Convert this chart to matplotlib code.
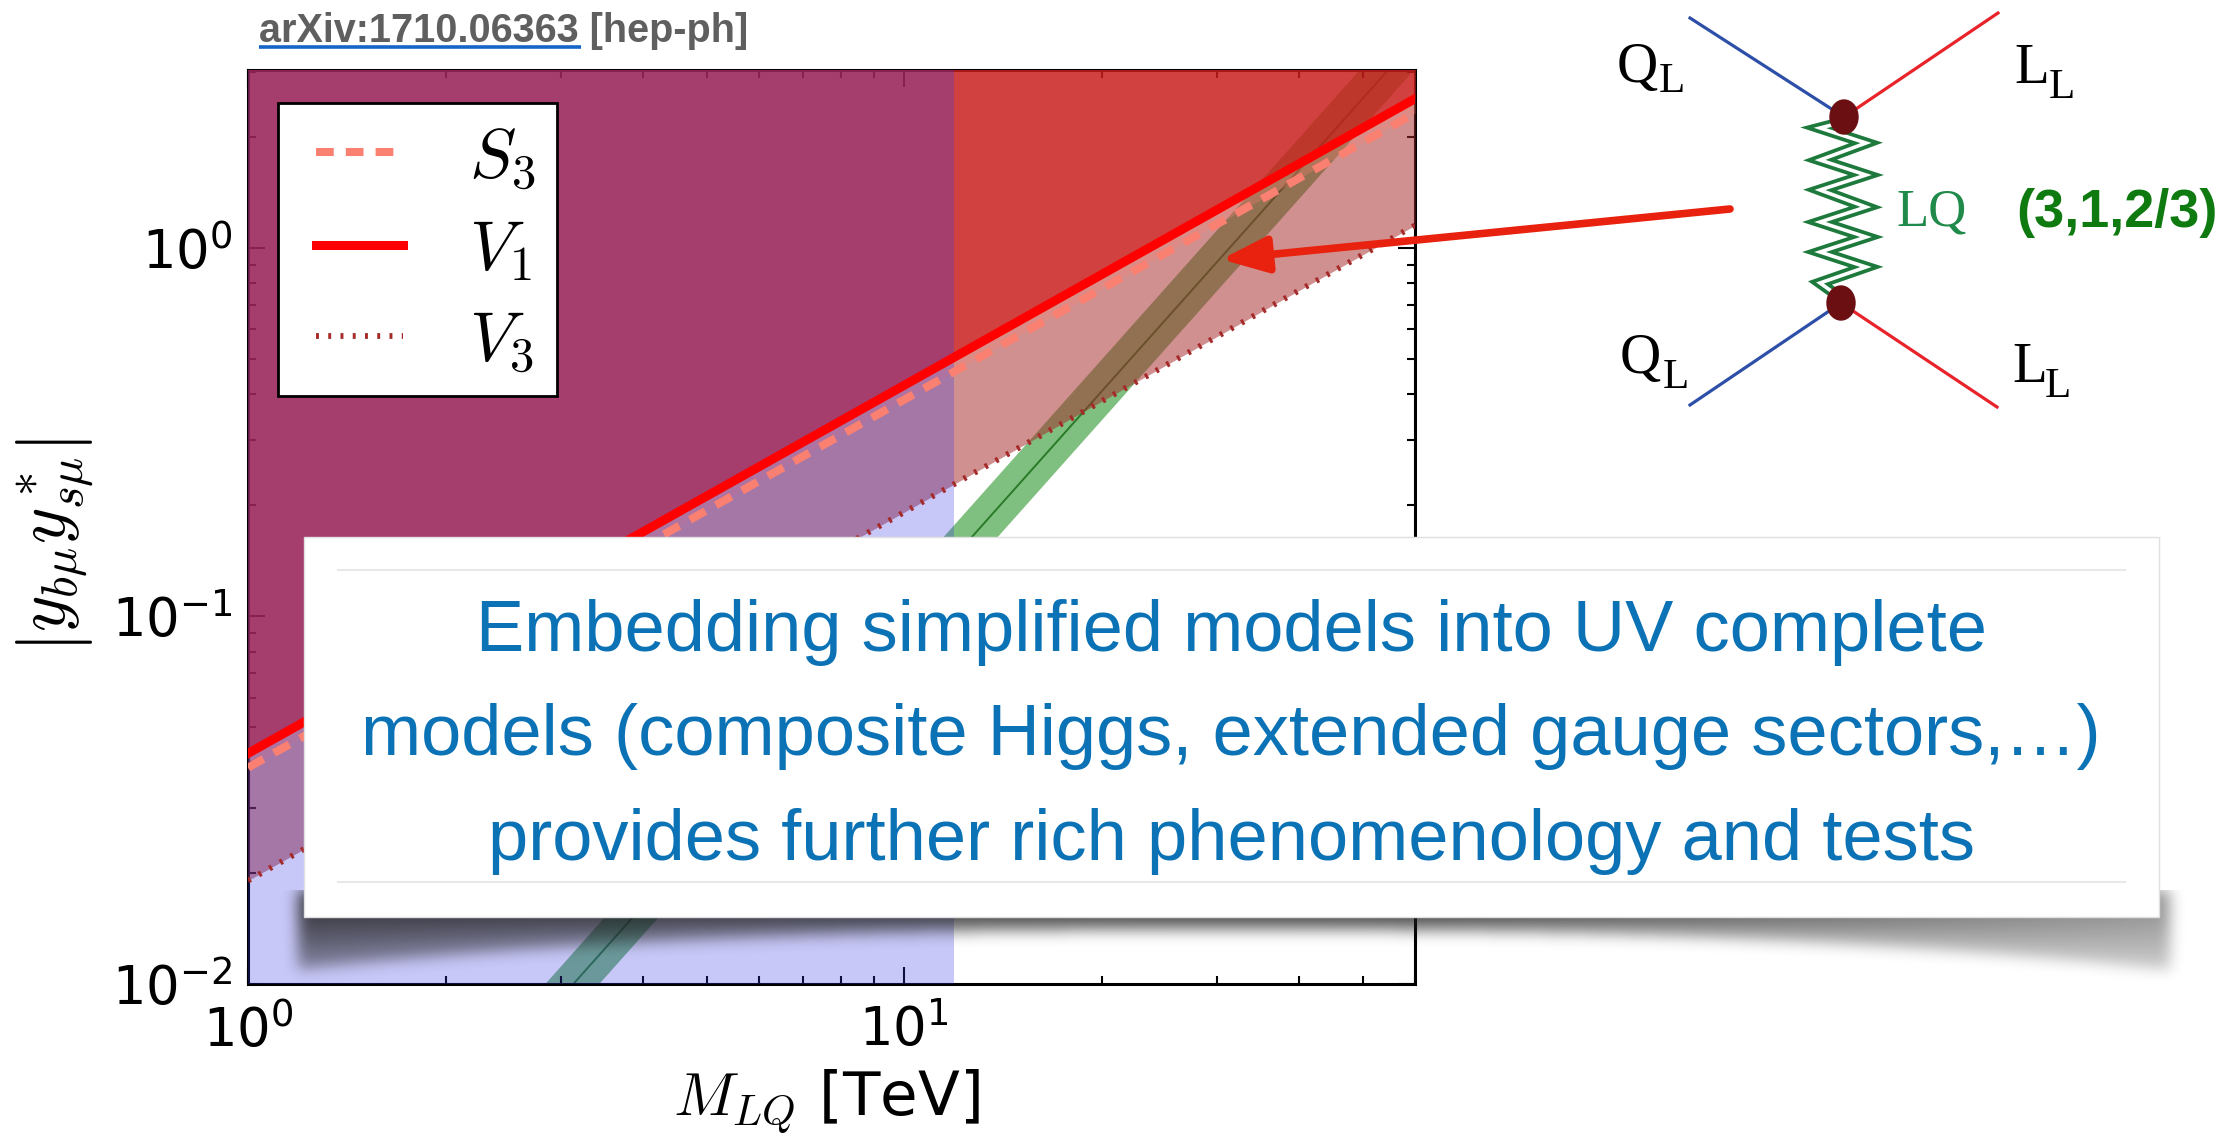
import matplotlib
matplotlib.use('Agg')
import numpy as np
import matplotlib.pyplot as plt
from matplotlib.patches import Rectangle, Ellipse, FancyArrowPatch
from matplotlib.ticker import NullFormatter
from matplotlib.legend_handler import HandlerLine2D

plt.rcParams['mathtext.fontset'] = 'cm'
plt.rcParams['axes.unicode_minus'] = False
plt.rcParams['font.family'] = 'DejaVu Sans'

# coupling limits |y_bmu y*_smu| vs leptoquark mass (straight lines in log-log)
m_ends = [1.0, 60.0]
v1_limit = [0.0423, 2.54]
s3_limit = [0.0387, 2.32]
v3_limit = [0.0191, 1.15]

# preferred band from b->s mu mu fit
band_center = [0.00102, 3.67]
band_lo = [0.00085, 3.06]
band_hi = [0.00124, 4.48]

m_direct = 11.9      # edge of the shaded low-mass region
y_top = 10.0

W, H = 2236, 1135
fig = plt.figure(figsize=(W / 100, H / 100), dpi=100)
ax = fig.add_axes([248 / W, 1 - 984 / H, 1167 / W, 914 / H])
ax.set_xscale('log')
ax.set_yscale('log')

ax.fill_between(m_ends, band_lo, band_hi, color='green', alpha=0.5, lw=0, zorder=1)
ax.plot(m_ends, band_center, color='#2a7a2a', lw=1.4, zorder=2)
ax.fill_between(m_ends, v3_limit, y_top, color='#a52a2a', alpha=0.52, lw=0, zorder=3)
ax.fill_between(m_ends, s3_limit, y_top, color='salmon', alpha=0.3, lw=0, zorder=3)
ax.fill_between(m_ends, v1_limit, y_top, color='#c80000', alpha=0.53, lw=0, zorder=3)
ax.axvspan(m_ends[0], m_direct, color=(56 / 255, 56 / 255, 230 / 255), alpha=0.28, lw=0, zorder=4)

l_s3, = ax.plot(m_ends, s3_limit, color='salmon', lw=5.8, dashes=(2.2, 1.5), zorder=6, label=r'$S_3$')
l_v1, = ax.plot(m_ends, v1_limit, color='red', lw=6.5, zorder=7, label=r'$V_1$')
l_v3, = ax.plot(m_ends, v3_limit, color='#a52a2a', lw=4.2, dashes=(0.5, 1.6), zorder=5, label=r'$V_3$')
l_v3.set_dash_capstyle('butt')

ax.set_xlim(1, 60)
ax.set_ylim(1e-2, 3.04)
ax.xaxis.set_minor_formatter(NullFormatter())
ax.yaxis.set_minor_formatter(NullFormatter())
ax.tick_params(which='both', direction='in', top=True, right=True, labelsize=38, width=1.5)
ax.tick_params(which='major', length=12, pad=11)
ax.tick_params(axis='x', which='major', pad=15)
ax.tick_params(which='minor', length=6)
for s in ax.spines.values():
    s.set_linewidth(2.2)

ax.set_xlabel(r'$M_{LQ}$ [TeV]', fontsize=44)
ax.xaxis.set_label_coords(0.496, -0.128)
ax.xaxis.label.set_va('center')
ax.set_ylabel(r'$\left|y_{b\mu}y^*_{s\mu}\right|$', fontsize=50)
ax.yaxis.set_label_coords(-0.165, 0.48)
ax.yaxis.label.set_va('center')

leg = ax.legend(handles=[l_s3, l_v1, l_v3], loc='upper left', bbox_to_anchor=(0.0257, 0.964),
                borderaxespad=0, fontsize=50, handlelength=1.5, handletextpad=0.95,
                borderpad=0.3, labelspacing=0.35, fancybox=False, framealpha=1,
                handler_map={matplotlib.lines.Line2D: HandlerLine2D(xpad=0.25)})
leg.get_frame().set_edgecolor('black')
leg.get_frame().set_linewidth(2)
leg.set_zorder(10)

# arrow from the diagram to the preferred band
tip = fig.transFigure.inverted().transform(ax.transData.transform((30.4, 0.93)))
arrow = FancyArrowPatch((1730 / W, 1 - 209 / H), tip, transform=fig.transFigure,
                        arrowstyle='-|>,head_length=1.4,head_width=0.55', mutation_scale=20,
                        color='#e8220e', lw=5.5, shrinkA=0, shrinkB=0)
fig.add_artist(arrow)

# overlay in pixel coordinates for header, text box and diagram
ov = fig.add_axes([0, 0, 1, 1], zorder=5)
ov.set_xlim(0, W)
ov.set_ylim(H, 0)
ov.axis('off')
ov.patch.set_alpha(0)

ov.text(259, 42, 'arXiv:1710.06363 [hep-ph]', fontsize=28.5, fontweight='bold',
        family='Liberation Sans', color='#5f5f5f', va='baseline', ha='left')
ov.plot([259, 581], [47, 47], color='#1565c8', lw=2.6, solid_capstyle='butt')


# curled shadow under the text box
def blur(a, sigma, axis):
    r = int(3 * sigma)
    k = np.exp(-0.5 * (np.arange(-r, r + 1) / sigma) ** 2)
    k /= k.sum()
    return np.apply_along_axis(lambda v: np.convolve(v, k, mode='same'), axis, a)


sx0, sx1, sy0, sy1 = 270, 2205, 890, 1010
X, Y = np.meshgrid(np.arange(sx0, sx1) + 0.5, np.arange(sy0, sy1) + 0.5)
u = (X - 1231.5) / 927.5
depth = 14 + 38 * np.abs(u) ** 2.5
t = (Y - 917) / depth
strength = np.where(u > 0.2, 0.8 - 0.35 * (u - 0.2) / 0.8, 0.8)
inside = (t <= 1) & (X >= 298) & (X <= 2170)
alpha = np.where(inside, strength * (1 - 0.5 * np.clip(t, 0, 1)), 0.0)
alpha = blur(blur(alpha, 7, 0), 7, 1)
shadow = np.zeros(alpha.shape + (4,))
shadow[..., :3] = 0.12
shadow[..., 3] = np.clip(alpha, 0, 1)
ov.imshow(shadow, extent=(sx0, sx1, sy1, sy0), origin='upper', aspect='auto',
          interpolation='bilinear', zorder=1)

ov.add_patch(Rectangle((304, 537), 1855, 380, facecolor='white', edgecolor='#e0e0e0', lw=1, zorder=2))
ov.plot([338, 2125], [570, 570], color='#e8e8e8', lw=1.5, zorder=3)
ov.plot([338, 2125], [882, 882], color='#e8e8e8', lw=1.5, zorder=3)
box_lines = ['Embedding simplified models into UV complete',
             'models (composite Higgs, extended gauge sectors,\u2026)',
             'provides further rich phenomenology and tests']
for txt, yb in zip(box_lines, [651, 755, 860]):
    ov.text(1231, yb, txt, fontsize=52, family='Liberation Sans', color='#0b72b5',
            ha='center', va='baseline', zorder=4)

# Feynman diagram: leptoquark exchange
vt, vb = (1844, 117), (1841, 303)
ov.plot([1690, vt[0]], [18, vt[1]], color='#2d4fa8', lw=2.3)
ov.plot([1998, vt[0]], [13, vt[1]], color='#e8232a', lw=2.3)
ov.plot([1690, vb[0]], [405, vb[1]], color='#2d4fa8', lw=2.3)
ov.plot([1997, vb[0]], [407, vb[1]], color='#e8232a', lw=2.3)
zy = [122, 128, 143, 160, 175, 190, 207, 222, 237, 252, 267, 283, 298]
zx = [1843, 1820, 1866, 1820, 1866, 1820, 1866, 1820, 1866, 1820, 1866, 1820, 1841]
ov.plot(zx, zy, color='#1e7a3c', lw=8, solid_joinstyle='miter')
ov.plot(zx, zy, color='white', lw=2.6, solid_joinstyle='miter')
for c in (vt, vb):
    ov.add_patch(Ellipse(c, 28, 34, color='#6b0f12', zorder=3))

serif = 'Liberation Serif'
for x, yb, s in [(1617, 82, 'Q'), (2014, 83, 'L'), (1620, 373, 'Q'), (2012, 382, 'L')]:
    ov.text(x, yb, s, fontsize=41, family=serif, va='baseline', ha='left')
for x, yb in [(1659, 92), (2049, 98), (1663, 388), (2045, 397)]:
    ov.text(x, yb, 'L', fontsize=31, family=serif, va='baseline', ha='left')
ov.text(1897, 226, 'LQ', fontsize=38, family=serif, color='#1f8a4a', va='baseline', ha='left')
ov.text(2016, 213, '(3,1,2/3)', fontsize=39, family='Liberation Sans', fontweight='bold',
        color='#0e7a10', va='center', ha='left')

fig.savefig('out.png', dpi=100)
